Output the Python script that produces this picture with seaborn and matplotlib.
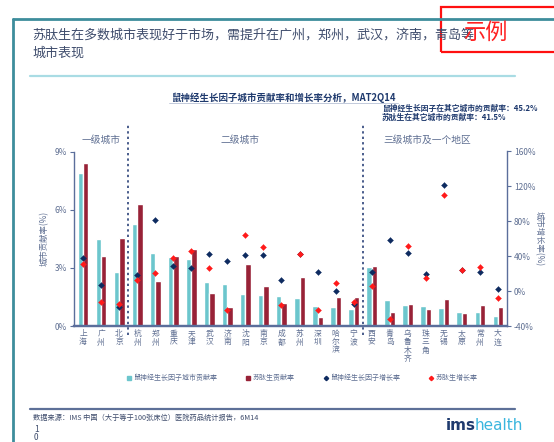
import numpy as np
import pandas as pd
import matplotlib
matplotlib.use("Agg")
import matplotlib.pyplot as plt
from matplotlib.lines import Line2D
from matplotlib.patches import Rectangle
import seaborn as sns

sns.set_theme(style="white")
plt.rcParams["font.family"] = ["Noto Sans CJK SC", "DejaVu Sans"]

# --- data ---
cities = ["上海", "广州", "北京", "杭州", "郑州", "重庆", "天津", "武汉", "济南", "沈阳",
          "南京", "成都", "苏州", "深圳", "哈尔滨", "宁波", "西安", "青岛", "乌鲁木齐",
          "珠三角", "无锡", "太原", "常州", "大连"]
ngf_share = [7.9, 4.5, 2.8, 5.25, 3.75, 3.57, 3.48, 2.28, 2.17, 1.64, 1.59, 1.54, 1.45,
             1.02, 1.0, 0.88, 3.02, 1.33, 1.1, 1.02, 0.92, 0.73, 0.71, 0.52]
sts_share = [8.4, 3.6, 4.52, 6.3, 2.3, 3.62, 3.95, 1.68, 0.98, 3.21, 2.07, 1.19, 2.55,
             0.47, 1.47, 1.48, 3.12, 0.74, 1.14, 0.86, 1.37, 0.67, 1.1, 1.0]
ngf_growth = [38, 7, -18.5, 19, 82, 28.5, 26, 43, 34.5, 41.5, 41, 13, 42.5, 21.5, 0.5,
              -14.5, 21.5, 58.5, 44, 19.5, 122, 24.5, 22, 2.5]
sts_growth = [31.5, -13, -15, 13, 20.5, 38.5, 45.5, 26.5, -21.5, 64, 51, -15.5, 43, -22,
              9, -12, 5.5, -31.5, 52, 15.5, 110, 24.5, 27.5, -7.5]
series_names = ["鼠神经生长因子城市贡献率", "苏肽生贡献率", "鼠神经生长因子增长率", "苏肽生增长率"]
tiers = ["一级城市", "二级城市", "三级城市及一个地区"]
tier_breaks = [2.5, 15.5]
left_ticks = [0, 3, 6, 9]
right_ticks = [-40, 0, 40, 80, 120, 160]

CYAN = "#6CC6CD"
DRED = "#982237"
NAVY = "#0E2B60"
RED = "#FF1A1A"
AXC = "#5B6E9B"
TXT = "#5F6F92"

df = pd.DataFrame({"city": cities * 2,
                   "series": [series_names[0]] * len(cities) + [series_names[1]] * len(cities),
                   "value": ngf_share + sts_share})

W, H = 554, 442
fig = plt.figure(figsize=(W / 100, H / 100), dpi=100)


def fx(x):
    return x / W


def fy(y):
    return 1 - y / H


ax = fig.add_axes([fx(74), fy(326), fx(507) - fx(74), fy(151.5) - fy(326)])
sns.barplot(data=df, x="city", y="value", hue="series", order=cities,
            hue_order=series_names[:2], palette=[CYAN, DRED], width=0.6,
            saturation=1, legend=False, ax=ax)
ax.set_ylim(0, 9)
ax.set_yticks(left_ticks)
ax.set_yticklabels([f"{t}%" for t in left_ticks], fontsize=6, color=TXT)
ax.set_xlabel("")
ax.set_ylabel("城市贡献率(%)", fontsize=6, color=TXT, labelpad=4)
ax.set_xticks(range(len(cities)))
ax.set_xticklabels(["\n".join(c) for c in cities], fontsize=5.6, color=TXT,
                   linespacing=1.05, va="top")
ax.tick_params(axis="x", length=0, pad=3)
ax.tick_params(axis="y", length=3, width=0.8, color=AXC, direction="out", pad=2, left=True)

ax2 = ax.twinx()
xpos = np.arange(len(cities))
sns.scatterplot(x=xpos, y=ngf_growth, marker="D", s=9, color=NAVY, edgecolor=NAVY,
                linewidth=0.3, ax=ax2, zorder=3)
sns.scatterplot(x=xpos, y=sts_growth, marker="D", s=9, color=RED, edgecolor=RED,
                linewidth=0.3, ax=ax2, zorder=4)
ax2.set_ylim(-40, 160)
ax2.set_yticks(right_ticks)
ax2.set_yticklabels([f"{t}%" for t in right_ticks], fontsize=6, color=TXT)
ax2.set_ylabel("城市增长率(%)", fontsize=6, color=TXT, rotation=270, labelpad=6)
ax2.tick_params(axis="y", length=3, width=0.8, color=AXC, direction="out", pad=2, right=True)
ax.set_xlim(-0.5, len(cities) - 0.5)

for a in (ax, ax2):
    a.spines["top"].set_visible(False)
    a.spines["left"].set_color(AXC)
    a.spines["right"].set_color(AXC)
    a.spines["left"].set_linewidth(1.0)
    a.spines["right"].set_linewidth(1.0)
    a.spines["bottom"].set_color(AXC)
    a.spines["bottom"].set_linewidth(1.6)
ax.spines["right"].set_visible(False)
ax2.spines["left"].set_visible(False)

# tier separators and labels
for b in tier_breaks:
    ax.axvline(b, ymin=-0.05, ymax=1.15, color="#4A5D8C", lw=1.4, ls=(0, (1.2, 1.6)),
               clip_on=False)
ax.text(1.0, 1.04, tiers[0], transform=ax.get_xaxis_transform(), ha="center",
        va="bottom", fontsize=7, color=TXT)
ax.text(8.7, 1.04, tiers[1], transform=ax.get_xaxis_transform(), ha="center",
        va="bottom", fontsize=7, color=TXT)
ax.text(19.1, 1.04, tiers[2], transform=ax.get_xaxis_transform(), ha="center",
        va="bottom", fontsize=7, color=TXT)

# legend
handles = [Line2D([], [], ls="", marker="s", ms=2.6, color=CYAN),
           Line2D([], [], ls="", marker="s", ms=2.6, color=DRED),
           Line2D([], [], ls="", marker="D", ms=2.2, color=NAVY),
           Line2D([], [], ls="", marker="D", ms=2.2, color=RED)]
fig.legend(handles, series_names, loc="center", bbox_to_anchor=(fx(302), fy(378)),
           ncol=4, frameon=False, fontsize=5, handlelength=0.6, handletextpad=0.3,
           columnspacing=4.2, labelcolor=TXT)

# page frame and decorations
fig.add_artist(Line2D([fx(12.5), 1], [fy(18.5), fy(18.5)], color="#3D8D9C", lw=2))
fig.add_artist(Line2D([fx(12.5), fx(12.5)], [fy(18.5), 0], color="#3D8D9C", lw=2))
fig.add_artist(Line2D([fx(30), fx(515)], [fy(76), fy(76)], color="#A9DCE4", lw=1.6))
fig.add_artist(Line2D([fx(30), fx(515)], [fy(409), fy(409)], color="#5D7098", lw=1.6))

fig.text(fx(32), fy(35), "苏肽生在多数城市表现好于市场，需提升在广州，郑州，武汉，济南，青岛等",
         fontsize=9.4, color="#3E4C6C", va="center", ha="left")
fig.text(fx(32), fy(53), "城市表现", fontsize=9.4, color="#3E4C6C", va="center", ha="left")

fig.add_artist(Rectangle((fx(441), fy(52)), fx(560) - fx(441), fy(7) - fy(52),
                         transform=fig.transFigure, fill=False, edgecolor="#FF1010", lw=1.6,
                         clip_on=False))
fig.text(fx(486), fy(32), "示例", fontsize=16, color="#FF2020", ha="center", va="center",
         fontweight="light")

fig.text(fx(283), fy(98), "鼠神经生长因子城市贡献率和增长率分析，MAT2Q14", fontsize=6.8,
         fontweight="bold", color="#1F3A6E", ha="center", va="center")
fig.add_artist(Line2D([fx(169), fx(398)], [fy(103), fy(103)], color="#B8C2D6", lw=0.6))
fig.text(fx(382), fy(108), "鼠神经生长因子在其它城市的贡献率：45.2%", fontsize=5.6,
         fontweight="bold", color="#1F3A6E", ha="left", va="center")
fig.text(fx(382), fy(117), "苏肽生在其它城市的贡献率：41.5%", fontsize=5.6,
         fontweight="bold", color="#1F3A6E", ha="left", va="center")

fig.text(fx(33), fy(418), "数据来源：IMS 中国（大于等于100张床位）医院药品统计报告，6M14",
         fontsize=5.2, color="#3E4C6C", ha="left", va="center", style="italic")
fig.text(fx(34), fy(429), "1", fontsize=6, color="#3E4C6C", ha="left", va="center")
fig.text(fx(34), fy(437), "0", fontsize=6, color="#3E4C6C", ha="left", va="center")
fig.text(fx(446), fy(425), "ims", fontsize=11, fontweight="bold", color="#1F3A6E",
         ha="left", va="center", family="DejaVu Sans")
fig.text(fx(475), fy(425), "health", fontsize=11, color="#3BB6DE", ha="left", va="center",
         family="DejaVu Sans")

fig.savefig("out.png", dpi=100)
